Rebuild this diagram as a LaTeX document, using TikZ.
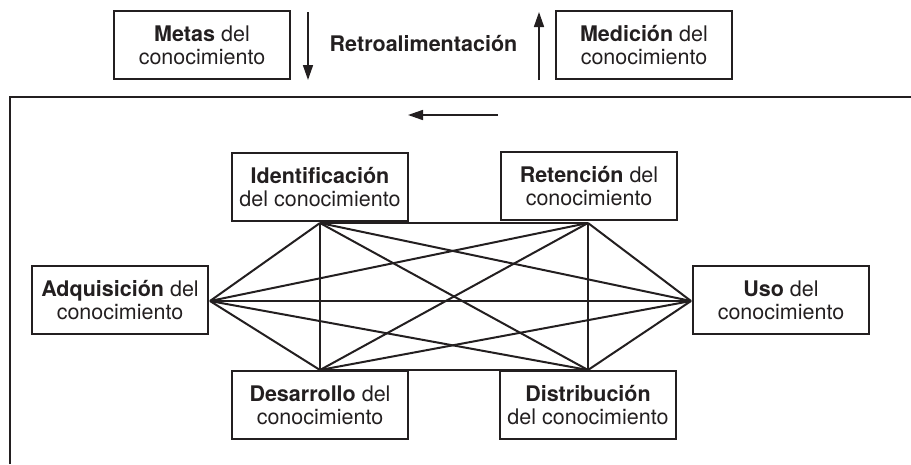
\documentclass[tikz,border=0pt]{standalone}
\usepackage{fontspec}
\setmainfont{TeX Gyre Heros}
\usetikzlibrary{arrows.meta}
\definecolor{ink}{RGB}{35,31,32}
\begin{document}
\begin{tikzpicture}[x=1pt,y=-1pt,
  box/.style={draw=ink, line width=2pt, minimum width=176pt, minimum height=68pt,
    inner sep=0pt, align=center, text=ink, font=\fontsize{21.5}{23.3}\selectfont},
  link/.style={draw=ink, line width=2pt},
  frameline/.style={draw=ink, line width=2pt},
  flow/.style={draw=ink, line width=1.6pt, -{Triangle[length=15pt,width=10pt]}},
  lbl/.style={text=ink, inner sep=0pt, font=\fontsize{21.5}{23.3}\selectfont\bfseries}]
\useasboundingbox (0,0) rectangle (911,464);

% top part
\node[box] (metas) at (202,45) {\textbf{Metas} del\\conocimiento};
\node[box] (medicion) at (644,45) {\textbf{Medición} del\\conocimiento};
\node[lbl] (retro) at (423.5,44) {Retroalimentación};
\coordinate (dTop) at (308,12);
\coordinate (dBot) at (308,80);
\coordinate (uTop) at (539,12);
\coordinate (uBot) at (539,80);
\draw[flow] (dTop) -- (dBot);
\draw[flow] (uBot) -- (uTop);

% frame
\coordinate (fBL) at (10,464);
\coordinate (fTL) at (10,97);
\coordinate (fTR) at (911,97);
\draw[frameline] (fBL) -- (fTL) -- (fTR);
\coordinate (lStart) at (498,115);
\coordinate (lEnd) at (408,115);
\draw[flow] (lStart) -- (lEnd);

% process boxes
\node[box] (ident) at (320,187) {\textbf{Identificación}\\del conocimiento};
\node[box] (reten) at (589,186) {\textbf{Retención} del\\conocimiento};
\node[box] (adq) at (120,300) {\textbf{Adquisición} del\\conocimiento};
\node[box] (uso) at (781,300) {\textbf{Uso} del\\conocimiento};
\node[box] (desa) at (320,405) {\textbf{Desarrollo} del\\conocimiento};
\node[box] (dist) at (588,405) {\textbf{Distribución}\\del conocimiento};

% junction points
\coordinate (pI) at (320,223);
\coordinate (pR) at (588,223);
\coordinate (pA) at (210,301);
\coordinate (pU) at (691,301);
\coordinate (pD) at (320,370);
\coordinate (pT) at (588,370);

\foreach \a/\b in {pA/pI, pA/pR, pA/pU, pA/pD, pA/pT,
                   pI/pR, pI/pU, pI/pD, pI/pT,
                   pR/pU, pR/pD, pR/pT,
                   pU/pD, pU/pT,
                   pD/pT}
  \draw[link] (\a) -- (\b);
\end{tikzpicture}
\end{document}
